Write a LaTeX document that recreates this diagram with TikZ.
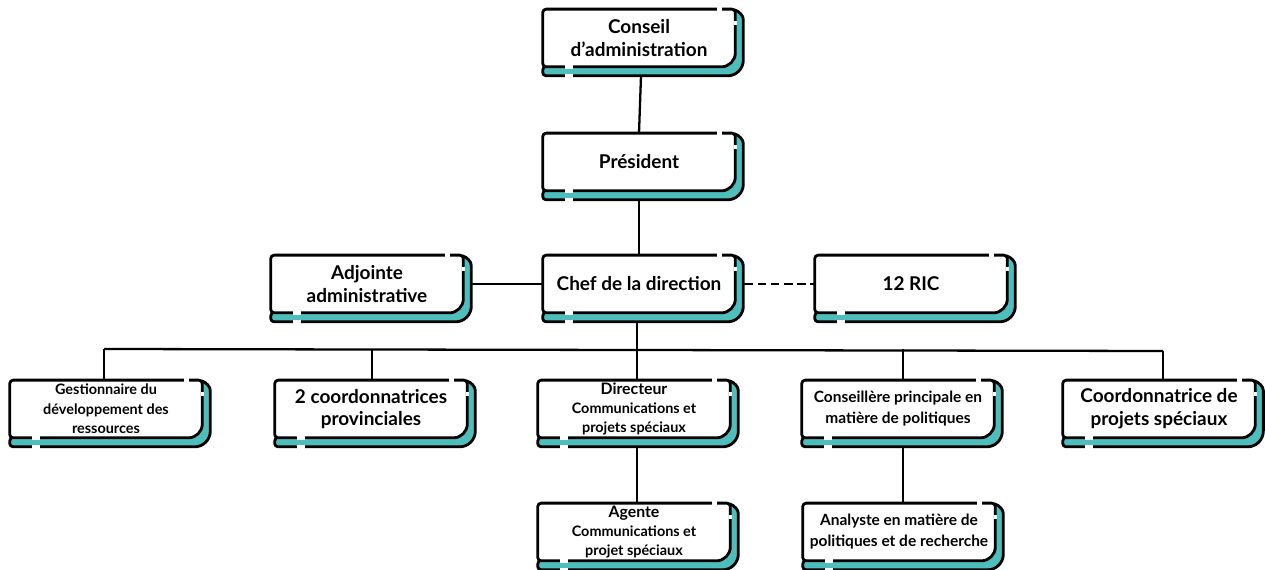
\documentclass[tikz,border=0pt]{standalone}
\usepackage{fontspec}
\setmainfont{Lato}
\usetikzlibrary{backgrounds}

\definecolor{boxteal}{RGB}{78,190,188}

\tikzset{
  orgbox/.style={align=center,inner sep=0pt,minimum width=3.84cm,minimum height=1.14cm,
    font=\bfseries\fontsize{10.8}{13}\selectfont},
  smallbox/.style={orgbox,font=\bfseries\fontsize{8.2}{11}\selectfont},
  midbox/.style={orgbox,font=\bfseries\fontsize{8.8}{12}\selectfont},
  link/.style={line width=1.3pt},
}

% frame with teal shadow behind a named node
\newcommand\orgframe[1]{%
  \draw[line width=1.6pt,fill=boxteal,rounded corners=2pt]
    (#1.south west) -- ([shift={(0,9)}]#1.south west)
    [rounded corners=9pt] -- ([shift={(8,9)}]#1.south east)
    [rounded corners=2pt] -- ([shift={(8,7)}]#1.north east) -- (#1.north east) -- cycle;
  \draw[line width=1.6pt,fill=white,rounded corners=2pt]
    (#1.south west) -- (#1.north west) -- (#1.north east) [rounded corners=8pt]
    -- (#1.south east) [rounded corners=2pt] -- cycle;
  \draw[white,line width=2pt]
    ([shift={(-18,0)}]#1.north east) -- ([shift={(-13,0)}]#1.north east)
    ([shift={(0,12)}]#1.north east) -- ([shift={(0,16)}]#1.north east)
    ([shift={(22,0)}]#1.south west) -- ([shift={(30,0)}]#1.south west)
    ([shift={(22,9)}]#1.south west) -- ([shift={(30,9)}]#1.south west);
}

\begin{document}
\begin{tikzpicture}[x=0.02cm,y=-0.02cm]
  \useasboundingbox (0,0) rectangle (1265,570);

  \node[orgbox] (conseil) at (639,38) {Conseil\\d’administration};
  \node[orgbox] (pres) at (639,162) {Président};
  \node[orgbox] (chef) at (639,284) {Chef de la direction};
  \node[orgbox] (adj) at (367,284) {Adjointe\\administrative};
  \node[orgbox] (ric) at (911,284) {12 RIC};

  \node[smallbox] (gest) at (106,409) {Gestionnaire du\\développement des\\ressources};
  \node[orgbox] (coord) at (371,409) {2 coordonnatrices\\provinciales};
  \node[smallbox] (dir) at (634,409) {{\fontsize{9}{11}\selectfont Directeur}\\Communications et\\projets spéciaux};
  \node[midbox] (consp) at (898,409) {Conseillère principale en\\matière de politiques};
  \node[orgbox] (projsp) at (1159,409) {Coordonnatrice de\\projets spéciaux};

  \node[smallbox] (agente) at (634,532) {{\fontsize{9}{11}\selectfont Agente}\\Communications et\\projet spéciaux};
  \node[midbox] (analyste) at (899,532) {Analyste en matière de\\politiques et de recherche};

  \begin{scope}[on background layer]
    \foreach \n in {conseil,pres,chef,adj,ric,gest,coord,dir,consp,projsp,agente,analyste}
      {\orgframe{\n}}
  \end{scope}

  \coordinate (busL) at (104,349);
  \coordinate (busR) at (1163,351);

  \draw[link] ([shift={(2,9)}]conseil.south) -- ([shift={(0,0)}]pres.north);
  \draw[link] ([shift={(0,9)}]pres.south) -- (chef.north);
  \draw[link] ([shift={(9,0)}]adj.east) -- (chef.west);
  \draw[link,dashed,dash pattern=on 5pt off 2.5pt] ([shift={(9,0)}]chef.east) -- (ric.west);
  \draw[link] ([shift={(-2,9)}]chef.south) -- ([shift={(-2,0)}]chef.south |- busL);
  \draw[link] (busL) -- (busR);
  \draw[link] (busL) -- ([shift={(-2,0)}]gest.north);
  \draw[link] ([shift={(1,0)}]coord.north |- busL) -- ([shift={(1,0)}]coord.north);
  \draw[link] ([shift={(3,0)}]dir.north |- busL) -- ([shift={(3,0)}]dir.north);
  \draw[link] ([shift={(5,0)}]consp.north |- busL) -- ([shift={(5,0)}]consp.north);
  \draw[link] (busR) -- ([shift={(4,0)}]projsp.north);
  \draw[link] ([shift={(3,9)}]dir.south) -- ([shift={(3,0)}]agente.north);
  \draw[link] ([shift={(5,9)}]consp.south) -- ([shift={(4,0)}]analyste.north);
\end{tikzpicture}
\end{document}
